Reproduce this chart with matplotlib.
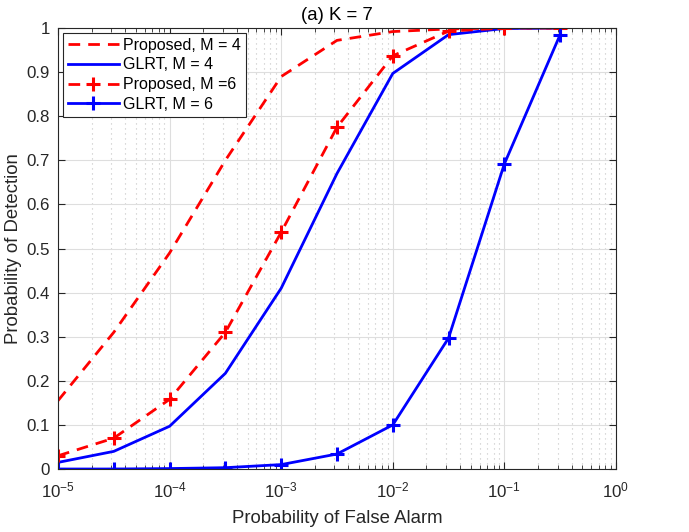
import matplotlib.pyplot as plt
import numpy as np

# false alarm probabilities (half-decade steps)
pfa = [1e-5, 3.16e-5, 1e-4, 3.16e-4, 1e-3, 3.16e-3, 1e-2, 3.16e-2, 1e-1, 3.16e-1]

# detection probabilities
pd_prop_m4 = [0.155, 0.31, 0.49, 0.70, 0.89, 0.972, 0.992, 0.998, 1.0, 1.0]
pd_glrt_m4 = [0.015, 0.04, 0.097, 0.217, 0.41, 0.67, 0.897, 0.985, 0.999, 1.0]
pd_prop_m6 = [0.03, 0.07, 0.158, 0.31, 0.537, 0.775, 0.937, 0.993, 1.0, 1.0]
pd_glrt_m6 = [0.0, 0.0, 0.001, 0.003, 0.01, 0.034, 0.1, 0.297, 0.692, 0.985]

labels = ["Proposed, M = 4", "GLRT, M = 4", "Proposed, M =6", "GLRT, M = 6"]
yticks = np.arange(0, 1.01, 0.1)
ytick_labels = ['0', '0.1', '0.2', '0.3', '0.4', '0.5', '0.6', '0.7', '0.8', '0.9', '1']

plt.rcParams['font.family'] = ['Liberation Sans', 'DejaVu Sans']
plt.rcParams['mathtext.fontset'] = 'custom'
plt.rcParams['mathtext.rm'] = 'Liberation Sans'
plt.rcParams['mathtext.it'] = 'Liberation Sans:italic'
plt.rcParams['mathtext.default'] = 'regular'
plt.rcParams['axes.unicode_minus'] = False

fig = plt.figure(figsize=(6.89, 5.32), dpi=100)
ax = fig.add_axes([0.0842, 0.1184, 0.8098, 0.8289])

lw = 2.0
dash = (0, (4.2, 2.9))
ax.plot(pfa, pd_prop_m4, color='red', ls=dash, lw=lw, label=labels[0])
ax.plot(pfa, pd_glrt_m4, color='blue', ls='-', lw=lw, label=labels[1])
ax.plot(pfa, pd_prop_m6, color='red', ls=dash, lw=lw, marker='+',
        ms=10, mew=2.2, label=labels[2])
ax.plot(pfa, pd_glrt_m6, color='blue', ls='-', lw=lw, marker='+',
        ms=10, mew=2.2, label=labels[3])

ax.set_xscale('log')
ax.set_xlim(1e-5, 1)
ax.set_ylim(0, 1)
ax.set_yticks(yticks)
ax.set_yticklabels(ytick_labels)

ax.grid(True, which='major', color='#dedede', lw=0.8, ls='-')
ax.grid(True, which='minor', axis='x', color='#c4c4c4', lw=0.8, ls=(0, (1, 3.5)))
ax.set_axisbelow(True)

ax.tick_params(which='both', direction='in', top=True, right=True,
               colors='#262626', labelsize=12.2)
ax.tick_params(axis='x', which='both', pad=8)
ax.tick_params(axis='y', which='both', pad=6)
ax.tick_params(which='major', length=5, width=0.8)
ax.tick_params(which='minor', length=3, width=0.6)
for s in ax.spines.values():
    s.set_color('#262626')
    s.set_linewidth(0.8)

ax.set_xlabel('Probability of False Alarm', fontsize=13.4, color='#262626', labelpad=7)
ax.set_ylabel('Probability of Detection', fontsize=13.4, color='#262626', labelpad=3)
ax.set_title('(a) K = 7', fontsize=13.4, color='black', pad=6)

leg = ax.legend(loc='upper left', fontsize=11.5, frameon=True, fancybox=False,
                edgecolor='#262626', framealpha=1, borderpad=0.3,
                labelspacing=0.3, handlelength=3.2, handletextpad=0.3,
                borderaxespad=0.3)
leg.get_frame().set_linewidth(0.8)

fig.savefig('out.png', dpi=100)
